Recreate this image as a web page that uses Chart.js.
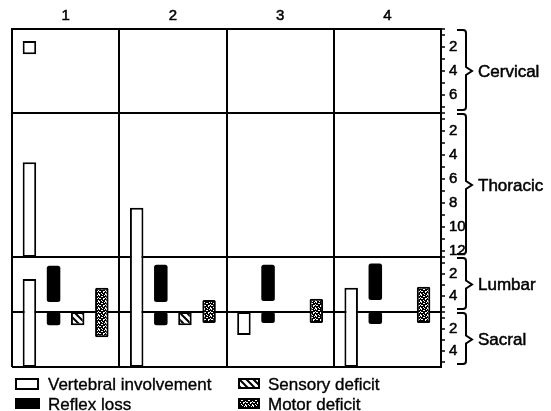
<!DOCTYPE html>
<html><head><meta charset="utf-8">
<script src="https://cdn.jsdelivr.net/npm/chart.js@4/dist/chart.umd.min.js"></script>
<style>
body{margin:0;background:#fff;}
#wrap{position:relative;width:551px;height:411px;overflow:hidden;font-family:"Liberation Sans",Arial,sans-serif;background:#fff;}
#c{position:absolute;left:0;top:0;}
.lt{position:absolute;font-size:17px;line-height:1;white-space:nowrap;color:#000;-webkit-text-stroke:0.35px #000;}
</style></head><body>
<div id="wrap">
<canvas id="c" width="551" height="411"></canvas>
</div>
<script>
// ---------- data ----------
const columns = ['1', '2', '3', '4'];
const regions = ['Cervical', 'Thoracic', 'Lumbar', 'Sacral'];
const regionLevels = [7, 12, 5, 5];
const tickLabels = [[2, 4, 6], [2, 4, 6, 8, 10, 12], [2, 4], [2, 4]];
const seriesNames = ['Vertebral involvement', 'Reflex loss', 'Sensory deficit', 'Motor deficit'];
// ranges [from, to] in vertebral levels of a region (level k spans k-0.5 .. k+0.5), one per column
const vertebralCervical = [[1.5, 2.6], null, null, null];
const vertebralThoracic = [[4.6, 12.5], [8.4, 12.5], null, null];
const vertebralLumbar = [[2.5, 5.5], [0.5, 5.5], null, [3.3, 5.5]];
const vertebralSacral = [[0.5, 5.5], [0.5, 5.5], [0.5, 2.6], [0.5, 5.5]];
const reflexLumbar = [[1.3, 4.6], [1.2, 4.6], [1.2, 4.5], [1.1, 4.4]];
const reflexSacral = [[0.5, 1.7], [0.5, 1.7], [0.5, 1.5], [0.5, 1.6]];
const sensorySacral = [[0.5, 1.7], [0.5, 1.7], null, null];
const motorLumbar = [[3.3, 5.5], [4.4, 5.5], [4.3, 5.5], [3.2, 5.5]];
const motorSacral = [[0.5, 2.8], [0.5, 1.5], [0.5, 1.5], [0.5, 1.5]];

const seriesData = [
  [vertebralCervical, vertebralThoracic, vertebralLumbar, vertebralSacral],
  [null, null, reflexLumbar, reflexSacral],
  [null, null, null, sensorySacral],
  [null, null, motorLumbar, motorSacral]
];

// ---------- styles ----------
const FONT = '"Liberation Sans", Arial, sans-serif';
Chart.defaults.font.family = FONT;
Chart.defaults.color = '#000';
const levelPx = [12, 12, 11, 11];

function hatchPattern(ctx) {
  const c = document.createElement('canvas'); c.width = 7; c.height = 7;
  const g = c.getContext('2d');
  g.fillStyle = '#fff'; g.fillRect(0, 0, 7, 7);
  g.strokeStyle = '#000'; g.lineWidth = 2;
  g.beginPath();
  [-7, 0, 7].forEach(k => { g.moveTo(k - 1, -1); g.lineTo(k + 8, 8); });
  g.stroke();
  return ctx.createPattern(c, 'repeat');
}
function stipplePattern(ctx) {
  const c = document.createElement('canvas'); c.width = 7; c.height = 7;
  const g = c.getContext('2d');
  g.fillStyle = '#000'; g.fillRect(0, 0, 7, 7);
  g.fillStyle = '#fff';
  [[0,0],[1,0],[1,1],[4,0],[3,2],[4,2],[6,1],[0,3],[1,4],[2,4],[5,4],[5,5],[6,4],[3,6],[0,6]].forEach(p => g.fillRect(p[0], p[1], 1, 1));
  return ctx.createPattern(c, 'repeat');
}

const canvas = document.getElementById('c');
const cctx = canvas.getContext('2d');
const fills = ['#fff', '#000', hatchPattern(cctx), stipplePattern(cctx)];
const borderW = [2, 0, 2, 2];
const radii = [0, 2.5, 0, 1.5];

function piece(s, r, c) { const d = seriesData[s][r]; return d ? d[c] : null; }
function contDown(s, r, c) {
  const p = piece(s, r, c);
  const n = r + 1 < regions.length ? piece(s, r + 1, c) : null;
  return !!(p && n && p[1] >= regionLevels[r] + 0.5 - 1e-6 && n[0] <= 0.5 + 1e-6);
}
function contUp(s, r, c) { return r > 0 && contDown(s, r - 1, c); }

const datasets = [];
seriesData.forEach((regs, s) => {
  regs.forEach((arr, r) => {
    if (!arr) return;
    datasets.push({
      label: seriesNames[s],
      data: arr,
      yAxisID: 'y' + r,
      stack: 's' + s,
      backgroundColor: fills[s],
      borderColor: '#000',
      borderSkipped: false,
      borderWidth: (ctx) => {
        const w = borderW[s];
        return { left: w, right: w, top: contUp(s, r, ctx.dataIndex) ? 0 : w, bottom: contDown(s, r, ctx.dataIndex) ? 0 : w };
      },
      borderRadius: radii[s],
      categoryPercentage: 0.9,
      barPercentage: 0.56
    });
  });
});

const scales = {
  x: {
    type: 'category', labels: columns, position: 'top', offset: true,
    grid: { offset: true, color: '#000', lineWidth: 2, drawTicks: false },
    border: { display: true, color: '#000', width: 2 },
    ticks: { color: '#000', font: { size: 15 }, padding: 4, textStrokeColor: '#000', textStrokeWidth: 0.5 },
    afterFit: sc => { sc.height = 29; }
  }
};
regions.forEach((name, r) => {
  const maxV = regionLevels[r] + 0.5;
  scales['y' + r] = {
    type: 'linear', position: 'right', stack: 'spine', stackWeight: regionLevels[r] * levelPx[r],
    reverse: true, min: 0.5, max: maxV, offset: false,
    afterBuildTicks: sc => {
      const v = [0.5];
      for (let k = 1; k <= regionLevels[r]; k++) v.push(k);
      v.push(maxV);
      sc.ticks = v.map(value => ({ value }));
    },
    afterFit: sc => { sc.width = 30; },
    ticks: {
      autoSkip: false, padding: 4, color: '#000', font: { size: 15 },
      textStrokeColor: '#000', textStrokeWidth: 0.5,
      callback: (v) => tickLabels[r].includes(v) ? String(v) : ''
    },
    grid: {
      drawOnChartArea: true, tickLength: 4, lineWidth: 2, tickWidth: 1.5,
      color: (ctx) => (ctx.tick && (ctx.tick.value === 0.5 || (r === regions.length - 1 && ctx.tick.value === maxV))) ? '#000' : 'rgba(0,0,0,0)',
      tickColor: (ctx) => (ctx.tick && (Number.isInteger(ctx.tick.value) || ctx.tick.value === 0.5)) ? '#000' : 'rgba(0,0,0,0)'
    },
    border: { display: true, color: '#000', width: 2 }
  };
});

const bracePlugin = {
  id: 'braces',
  afterDraw(chart) {
    const ctx = chart.ctx; const right = chart.chartArea.right;
    ctx.save();
    ctx.strokeStyle = '#000'; ctx.lineWidth = 2; ctx.fillStyle = '#000';
    ctx.lineJoin = 'miter';
    ctx.font = '17px ' + FONT; ctx.textBaseline = 'middle'; ctx.textAlign = 'left';
    regions.forEach((name, r) => {
      const sc = chart.scales['y' + r];
      const top = sc.top + 1, bottom = sc.bottom - 3, mid = (sc.top + sc.bottom) / 2;
      const xh = right + 16, xs = right + 25, xt = right + 31;
      ctx.beginPath();
      ctx.moveTo(xh, top); ctx.lineTo(xs - 3, top); ctx.quadraticCurveTo(xs, top, xs, top + 3);
      ctx.lineTo(xs, mid - 4); ctx.lineTo(xt, mid); ctx.lineTo(xs, mid + 4);
      ctx.lineTo(xs, bottom - 3); ctx.quadraticCurveTo(xs, bottom, xs - 3, bottom); ctx.lineTo(xh, bottom);
      ctx.stroke();
      ctx.lineWidth = 0.5;
      ctx.fillText(name, right + 37, mid + 1);
      ctx.strokeText(name, right + 37, mid + 1);
      ctx.lineWidth = 2;
    });
    ctx.restore();
  }
};

new Chart(canvas, {
  type: 'bar',
  data: { labels: columns, datasets },
  options: {
    responsive: false, animation: false, devicePixelRatio: 1,
    layout: { padding: { left: 12, right: 80, top: 0, bottom: 44 } },
    plugins: { legend: { display: false }, tooltip: { enabled: false } },
    scales
  },
  plugins: [bracePlugin]
});

// ---------- legend (HTML) ----------
const wrap = document.getElementById('wrap');
const legendPos = [
  { sx: 15, sy: 378, sw: 24, sh: 12, tx: 48, ty: 375.6 },
  { sx: 15, sy: 398, sw: 25, sh: 11, tx: 48, ty: 395.6 },
  { sx: 238, sy: 378, sw: 22, sh: 11, tx: 268, ty: 375.6 },
  { sx: 238, sy: 398, sw: 22, sh: 11, tx: 268, ty: 395.6 }
];
seriesNames.forEach((name, s) => {
  const p = legendPos[s];
  const sw = document.createElement('canvas');
  sw.width = p.sw; sw.height = p.sh;
  sw.style.cssText = `position:absolute;left:${p.sx}px;top:${p.sy}px;`;
  const g = sw.getContext('2d');
  const f = s === 2 ? hatchPattern(g) : s === 3 ? stipplePattern(g) : fills[s];
  g.fillStyle = '#000'; g.fillRect(0, 0, p.sw, p.sh);
  const b = s === 1 ? 0 : 2;
  g.fillStyle = f; g.fillRect(b, b, p.sw - 2 * b, p.sh - 2 * b);
  wrap.appendChild(sw);
  const t = document.createElement('div');
  t.className = 'lt'; t.textContent = name;
  t.style.left = p.tx + 'px'; t.style.top = p.ty + 'px';
  wrap.appendChild(t);
});
</script>
</body></html>
